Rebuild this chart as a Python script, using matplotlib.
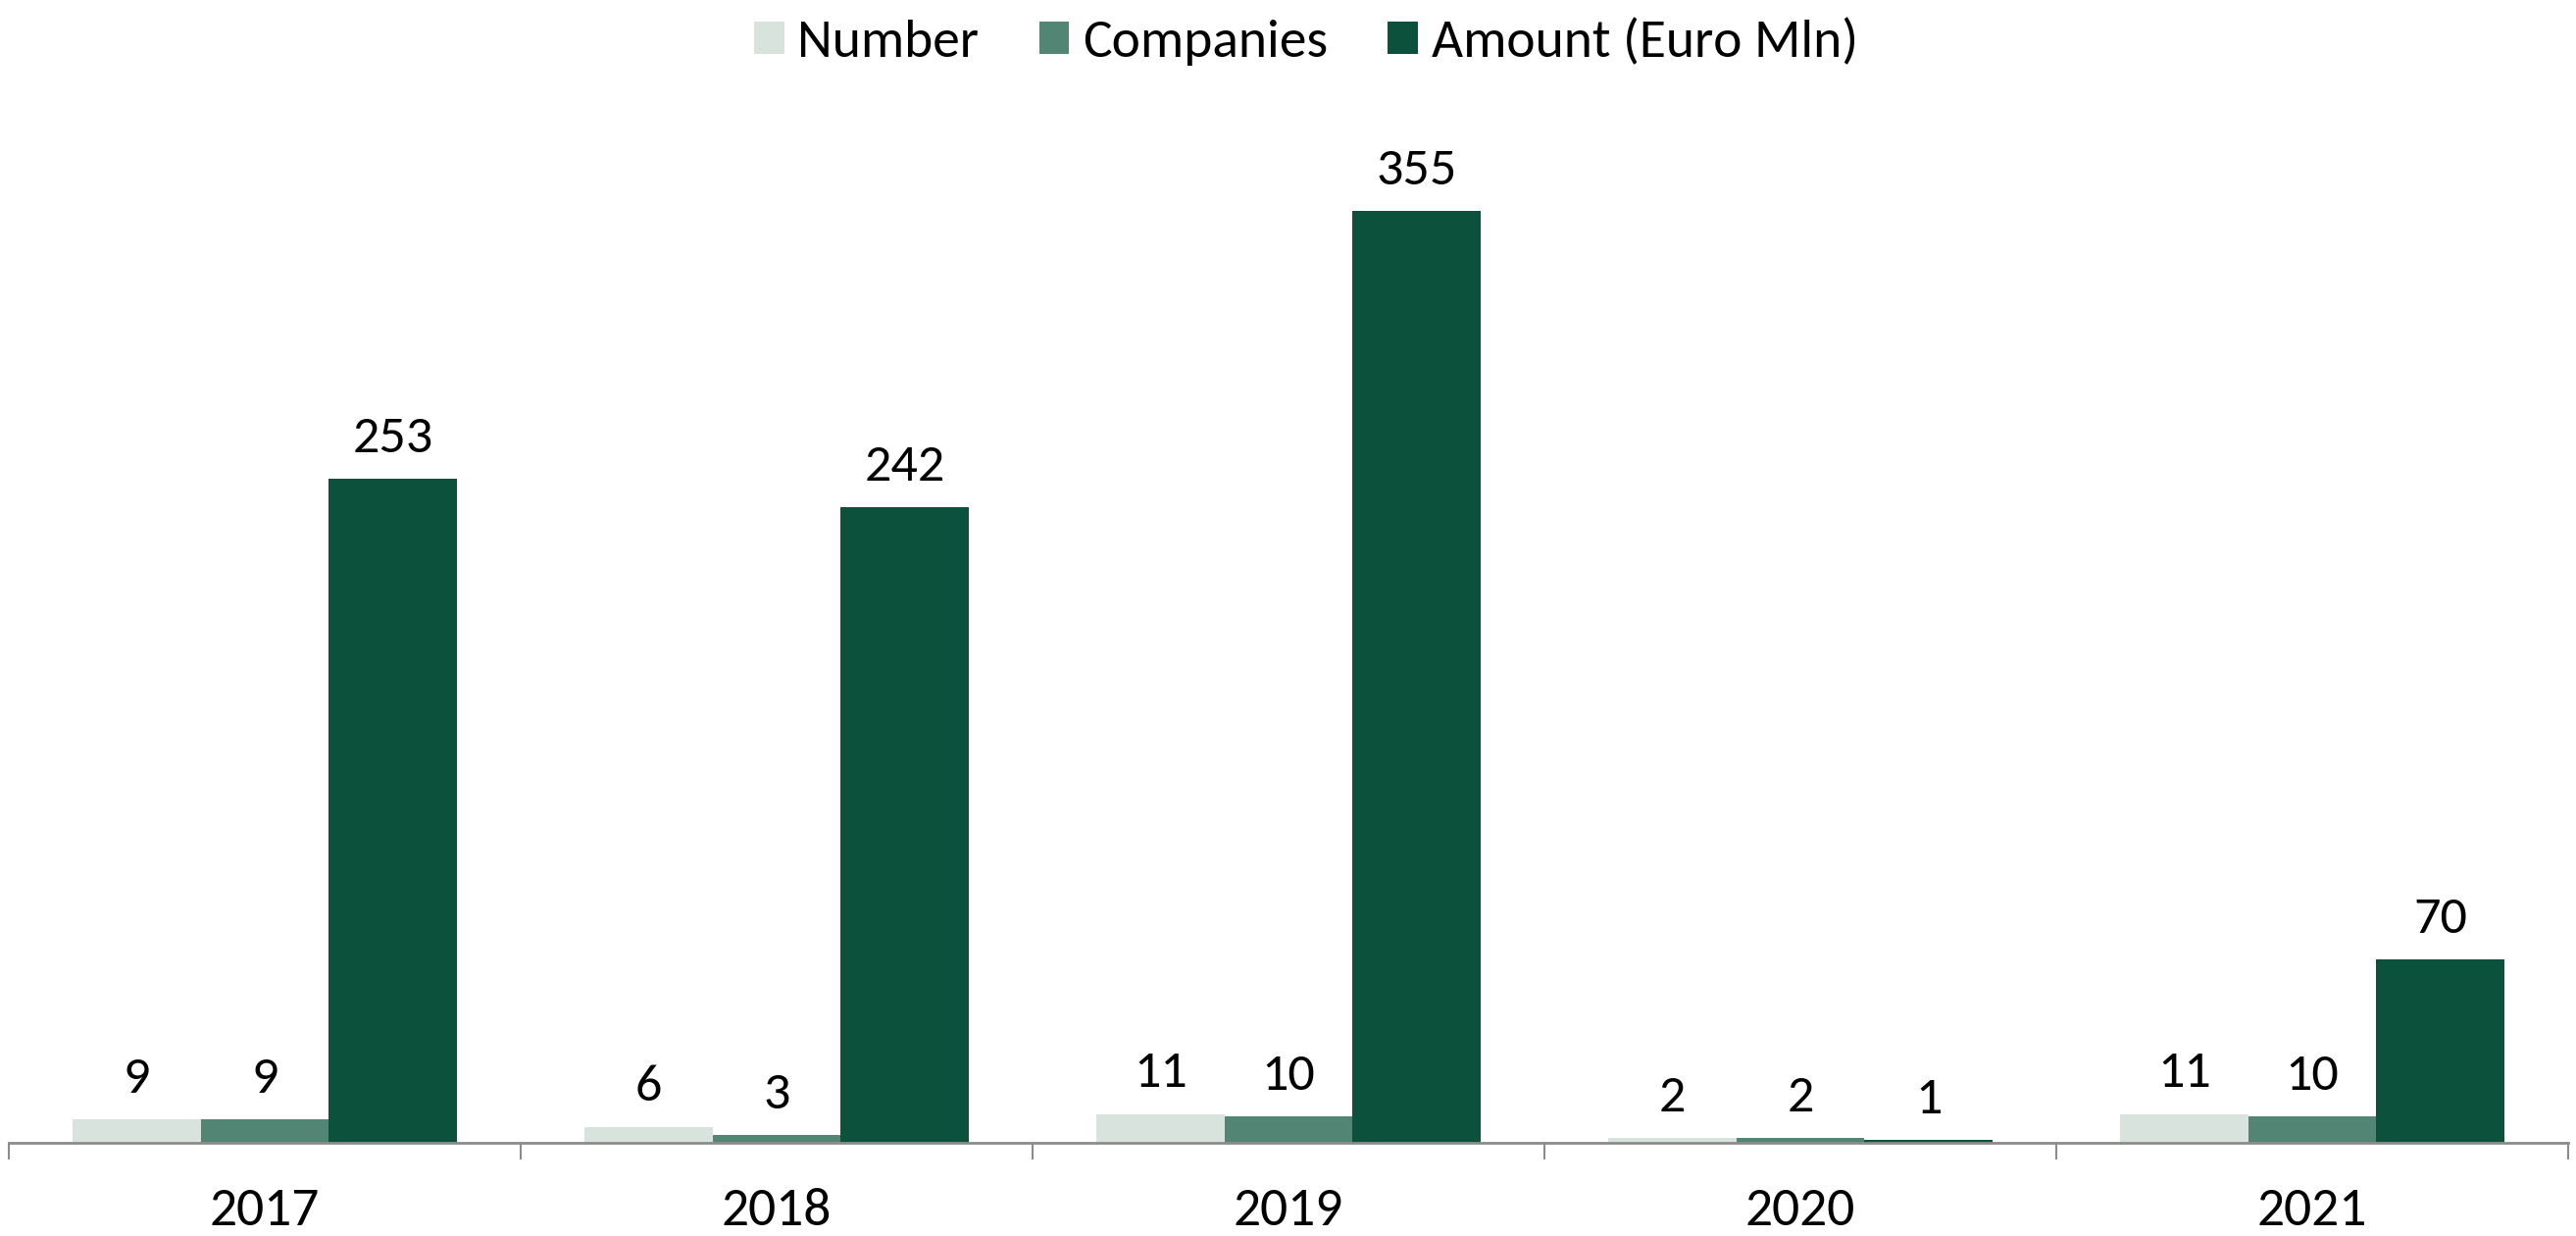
import numpy as np
import matplotlib.pyplot as plt

years = ["2017", "2018", "2019", "2020", "2021"]
number = [9, 6, 11, 2, 11]
companies = [9, 3, 10, 2, 10]
amount = [253, 242, 355, 1, 70]

series_names = ["Number", "Companies", "Amount (Euro Mln)"]
colors = ["#D9E3DE", "#538574", "#0B513C"]

plt.rcParams['font.family'] = ['Carlito', 'Liberation Sans Narrow', 'Lato', 'DejaVu Sans']

fig = plt.figure(figsize=(26.27, 12.6), dpi=100)
ax = fig.add_axes([0.0034, 0.0754, 0.9936, 0.8286])

x = np.arange(len(years))
w = 0.25
for i, (vals, name, col) in enumerate(zip([number, companies, amount], series_names, colors)):
    pos = x + (i - 1) * w
    bars = ax.bar(pos, vals, width=w, color=col, label=name, zorder=2)
    for b, v in zip(bars, vals):
        ax.annotate(str(v), (b.get_x() + b.get_width() / 2, b.get_height()),
                    xytext=(0, 13), textcoords="offset points",
                    ha="center", va="bottom", fontsize=39)

ax.set_xlim(-0.5, len(years) - 0.5)
ax.set_ylim(0, 390)

for s in ["top", "right", "left"]:
    ax.spines[s].set_visible(False)
ax.spines["bottom"].set_color("#8c8c8c")
ax.spines["bottom"].set_linewidth(2)
ax.set_yticks([])

ax.set_xticks(x)
ax.set_xticklabels(years, fontsize=40)
ax.tick_params(axis="x", which="major", length=0, pad=33)
ax.set_xticks(np.arange(len(years) + 1) - 0.5, minor=True)
ax.tick_params(axis="x", which="minor", length=12, width=1.5, color="#8c8c8c", direction="out")

fig.legend(loc="upper center", bbox_to_anchor=(0.507, 1.025), ncol=3, frameon=False,
           fontsize=40, handlelength=0.55, handleheight=0.55, handletextpad=0.25,
           columnspacing=1.1)

fig.savefig("out.png", dpi=100, facecolor="white")
